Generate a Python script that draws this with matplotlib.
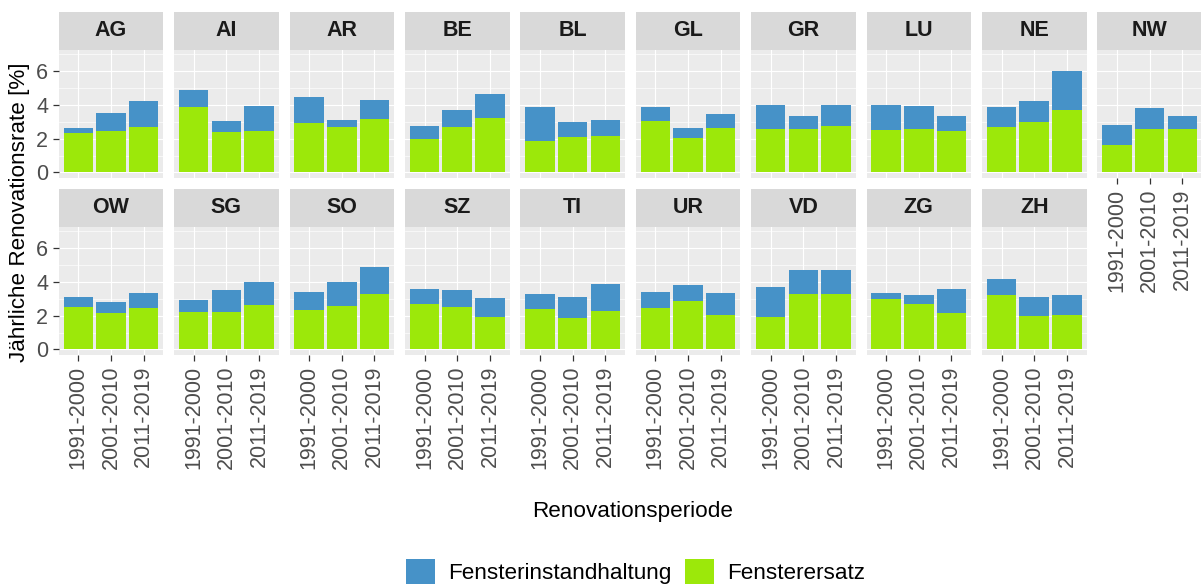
import numpy as np
import matplotlib
matplotlib.use("Agg")
import matplotlib.pyplot as plt
from matplotlib.patches import Patch

plt.rcParams['font.family'] = ['Liberation Sans', 'DejaVu Sans']

# Daten
perioden = ["1991-2000", "2001-2010", "2011-2019"]
kantone = ["AG", "AI", "AR", "BE", "BL", "GL", "GR", "LU", "NE", "NW",
           "OW", "SG", "SO", "SZ", "TI", "UR", "VD", "ZG", "ZH"]
ersatz = [
    [2.33, 2.47, 2.71], [3.86, 2.39, 2.43], [2.91, 2.67, 3.17], [1.96, 2.71, 3.22],
    [1.86, 2.10, 2.16], [3.03, 2.04, 2.61], [2.57, 2.59, 2.73], [2.51, 2.59, 2.47],
    [2.71, 3.01, 3.68], [1.62, 2.55, 2.55], [2.51, 2.18, 2.44], [2.20, 2.22, 2.63],
    [2.36, 2.55, 3.31], [2.67, 2.50, 1.92], [2.40, 1.88, 2.28], [2.48, 2.89, 2.02],
    [1.92, 3.27, 3.27], [2.99, 2.71, 2.18], [3.21, 1.96, 2.02],
]
instandhaltung = [
    [0.28, 1.03, 1.54], [1.01, 0.64, 1.51], [1.54, 0.44, 1.12], [0.81, 1.01, 1.41],
    [2.04, 0.91, 0.93], [0.87, 0.61, 0.87], [1.41, 0.77, 1.25], [1.51, 1.33, 0.87],
    [1.17, 1.22, 2.31], [1.21, 1.25, 0.79], [0.60, 0.65, 0.93], [0.75, 1.32, 1.35],
    [1.07, 1.47, 1.60], [0.93, 1.00, 1.11], [0.91, 1.21, 1.58], [0.93, 0.91, 1.31],
    [1.80, 1.46, 1.42], [0.34, 0.52, 1.42], [0.97, 1.13, 1.19],
]

BLAU = "#4692C8"
GRUEN = "#9CE80A"

W, H = 1201, 584
fig = plt.figure(figsize=(W / 100, H / 100), dpi=100)

def px_axes(x0, y0, w, h):
    return fig.add_axes([x0 / W, 1 - (y0 + h) / H, w / W, h / H])

left0, step, pw = 58.7, 115.4, 104.6
strip_h, panel_h = 37.5, 128.5
row_top = [12.0, 189.0]
x = np.arange(1, 4)

for i, k in enumerate(kantone):
    row, col = divmod(i, 10)
    xl = left0 + col * step
    ys = row_top[row]
    # Strip
    sax = px_axes(xl, ys, pw, strip_h)
    sax.set_facecolor("#D9D9D9")
    sax.set_xticks([]); sax.set_yticks([])
    for s in sax.spines.values():
        s.set_visible(False)
    sax.text(0.5, 0.5, k, ha="center", va="center", fontsize=15.5,
             fontweight="bold", color="#1A1A1A", transform=sax.transAxes)
    # Panel
    ax = px_axes(xl, ys + strip_h, pw, panel_h)
    ax.set_facecolor("#EBEBEB")
    for s in ax.spines.values():
        s.set_visible(False)
    ax.set_xlim(0.4, 3.6)
    ax.set_ylim(-0.33, 7.28)
    ax.set_yticks([0, 2, 4, 6])
    ax.set_yticks([1, 3, 5, 7], minor=True)
    ax.set_xticks(x)
    ax.grid(True, which="major", color="white", linewidth=0.85)
    ax.grid(True, which="minor", axis="y", color="white", linewidth=0.45)
    ax.set_axisbelow(True)
    ax.bar(x, ersatz[i], width=0.9, color=GRUEN, linewidth=0)
    ax.bar(x, instandhaltung[i], bottom=ersatz[i], width=0.9, color=BLAU, linewidth=0)
    ax.tick_params(which="minor", length=0)
    ax.tick_params(axis="both", colors="#333333", labelcolor="#4D4D4D",
                   labelsize=15.5, length=4.5, width=0.9, pad=3)
    if col == 0:
        ax.set_yticklabels(["0", "2", "4", "6"])
    else:
        ax.tick_params(axis="y", length=0, labelleft=False)
    if row == 1 or k == "NW":
        ax.set_xticklabels(perioden, rotation=90)
    else:
        ax.tick_params(axis="x", length=0, labelbottom=False)

fig.text(20 / W, 1 - 212 / H, "Jährliche Renovationsrate [%]", rotation=90,
         ha="center", va="center", fontsize=16.2, color="black")
fig.text(633 / W, 1 - 512 / H, "Renovationsperiode", ha="center", va="center",
         fontsize=16.2, color="black")

handles = [Patch(facecolor=BLAU, edgecolor="none"), Patch(facecolor=GRUEN, edgecolor="none")]
fig.legend(handles, ["Fensterinstandhaltung", "Fensterersatz"], ncol=2, loc="center",
           bbox_to_anchor=(635.5 / W, 1 - 571.5 / H), frameon=False, fontsize=16.2,
           handlelength=1.29, handleheight=1.29, handletextpad=0.58,
           columnspacing=0.58, borderpad=0, borderaxespad=0)

fig.savefig("out.png", dpi=100)
